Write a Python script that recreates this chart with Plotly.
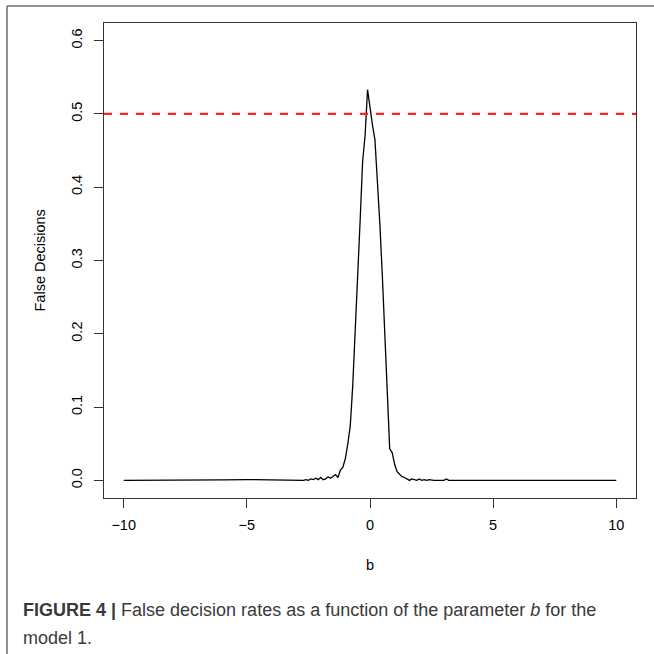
import plotly.graph_objects as go

# ---- data ----
b_values = [-10.0, -7.0, -6.0, -5.0, -4.0, -3.0, -2.7, -2.6, -2.5, -2.4, -2.3, -2.2, -2.1, -2.0,
            -1.9, -1.8, -1.7, -1.6, -1.5, -1.4, -1.3, -1.2, -1.1, -1.0, -0.9, -0.8, -0.7,
            -0.6, -0.5, -0.4, -0.3, -0.2, -0.1, 0.0, 0.1, 0.2, 0.3, 0.4, 0.5, 0.6, 0.7,
            0.8, 0.9, 1.0, 1.1, 1.2, 1.3, 1.4, 1.5, 1.6, 1.7, 1.8, 1.9, 2.0, 2.1, 2.2,
            2.3, 2.4, 2.5, 2.6, 2.8, 3.0, 3.1, 3.2, 3.4, 5.0, 10.0]
false_decisions = [0.0, 0.0, 0.0008, 0.0012, 0.0008, 0.0, 0.0, 0.001, 0.0, 0.002, 0.001, 0.003, 0.001, 0.004,
                   0.001, 0.002, 0.005, 0.003, 0.006, 0.008, 0.004, 0.014, 0.018, 0.03, 0.05, 0.075, 0.13,
                   0.2, 0.275, 0.355, 0.435, 0.47, 0.533, 0.505, 0.485, 0.465, 0.41, 0.35, 0.28, 0.2, 0.12,
                   0.043, 0.038, 0.022, 0.012, 0.009, 0.005, 0.004, 0.002, 0.0, 0.002, 0.001, 0.0, 0.002, 0.0, 0.001,
                   0.0, 0.001, 0.0, 0.0, 0.0, 0.0, 0.002, 0.0, 0.0, 0.0, 0.0]
threshold = 0.5
x_ticks = [-10, -5, 0, 5, 10]
y_ticks = [0.0, 0.1, 0.2, 0.3, 0.4, 0.5, 0.6]

W = H = 654
L, R, T, B = 104, 18, 23, 156
pw, ph = W - L - R, H - T - B

def px_x(p):
    return (p - L) / pw

def px_y(p):
    return (H - B - p) / ph

fig = go.Figure()
fig.add_trace(go.Scatter(x=b_values, y=false_decisions, mode="lines",
                         line=dict(color="black", width=1.3), showlegend=False))

fig.add_shape(type="line", xref="paper", x0=0, x1=1, yref="y", y0=threshold, y1=threshold,
              line=dict(color="#ff2020", width=2.2, dash="8px,8px"))

# outer figure frame (left and top)
fig.add_shape(type="line", xref="paper", yref="paper", x0=px_x(7), x1=px_x(7), y0=px_y(6), y1=px_y(660),
              line=dict(color="#6b6b6b", width=1.5))
fig.add_shape(type="line", xref="paper", yref="paper", x0=px_x(7), x1=px_x(660), y0=px_y(6), y1=px_y(6),
              line=dict(color="#6b6b6b", width=1.5))

axis_font = dict(family="Liberation Sans, Arial, sans-serif", size=14.5, color="black")

fig.update_xaxes(range=[-10.8, 10.8], tickvals=x_ticks, ticks="outside", ticklen=9, tickwidth=1,
                 tickcolor="#333", showline=True, linecolor="#333", linewidth=1, mirror=True,
                 showgrid=False, zeroline=False, tickfont=axis_font, ticklabelstandoff=5)
fig.update_yaxes(range=[-0.024, 0.624], tickvals=y_ticks, tickformat=".1f", tickangle=-90,
                 ticks="outside", ticklen=9, tickwidth=1, tickcolor="#333", showline=True,
                 linecolor="#333", linewidth=1, mirror=True, showgrid=False, zeroline=False,
                 tickfont=axis_font, ticklabelstandoff=6)

fig.add_annotation(text="False Decisions", xref="paper", yref="paper", x=px_x(39), y=0.5,
                   textangle=-90, showarrow=False, font=axis_font, xanchor="center", yanchor="middle")
fig.add_annotation(text="b", xref="paper", yref="paper", x=0.5, y=px_y(565),
                   showarrow=False, font=axis_font, xanchor="center", yanchor="middle")

cap_font = dict(family="Liberation Sans, Arial, sans-serif", size=18, color="#3a3a3a")
fig.add_annotation(text="<b>FIGURE 4 |</b> False decision rates as a function of the parameter <i>b</i> for the",
                   xref="paper", yref="paper", x=px_x(21), y=px_y(610), xanchor="left", yanchor="middle",
                   showarrow=False, font=cap_font, align="left")
fig.add_annotation(text="model 1.", xref="paper", yref="paper", x=px_x(21), y=px_y(638),
                   xanchor="left", yanchor="middle", showarrow=False, font=cap_font, align="left")

fig.update_layout(width=W, height=H, margin=dict(l=L, r=R, t=T, b=B, autoexpand=False),
                  paper_bgcolor="white", plot_bgcolor="white")

fig.write_html("out.html")
